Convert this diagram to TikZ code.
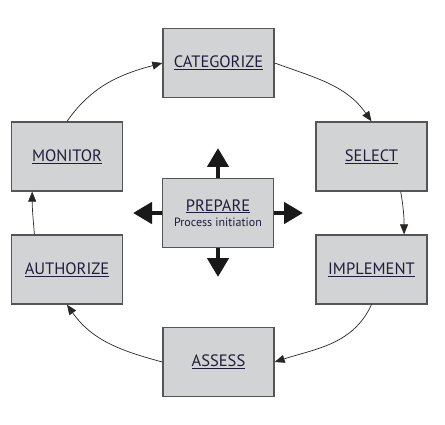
\documentclass[tikz,border=0pt]{standalone}
\usepackage{fontspec}
\setmainfont{PT Sans}
\usetikzlibrary{arrows.meta,calc}
\definecolor{boxfill}{HTML}{D2D3D5}
\definecolor{boxline}{HTML}{555555}
\definecolor{txt}{HTML}{1E1E3A}
\tikzset{
  stepbox/.style={draw=boxline, line width=1.3pt, fill=boxfill, minimum width=111pt, minimum height=69pt, inner sep=0pt, font=\fontsize{16.5}{18}\selectfont, text=txt},
  cycarrow/.style={draw=black!85, line width=0.7pt, -{Triangle[length=10pt,width=8pt]}},
  bigarrow/.style={draw=black!90, line width=4.5pt, -{Triangle[length=19pt,width=21pt]}}
}
\begin{document}
\begin{tikzpicture}[x=1pt,y=1pt]
\useasboundingbox (0,0) rectangle (445,424);
\node[stepbox] (cat) at (218.5,361) {\underline{CATEGORIZE}};
\node[stepbox] (mon) at (67,267.5) {\underline{MONITOR}};
\node[stepbox] (sel) at (371.5,267.5) {\underline{SELECT}};
\node[stepbox] (auth) at (67,154.5) {\underline{AUTHORIZE}};
\node[stepbox] (imp) at (371.5,154.5) {\underline{IMPLEMENT}};
\node[stepbox] (ass) at (218.5,62) {\underline{ASSESS}};
\node[stepbox, align=center] (prep) at (218,211) {\underline{PREPARE}\\[-3pt]{\fontsize{12}{14}\selectfont Process initiation}};
\coordinate (tN) at (218,276);
\coordinate (tS) at (218,147);
\coordinate (tW) at (133,211);
\coordinate (tE) at (303,211);
\draw[bigarrow] (prep.north) -- (tN);
\draw[bigarrow] (prep.south) -- (tS);
\draw[bigarrow] (prep.west) -- (tW);
\draw[bigarrow] (prep.east) -- (tE);
\draw[cycarrow] (cat.east) to[out=-20,in=125] (sel.north);
\draw[cycarrow] ($(sel.south west)!0.76!(sel.south east)$) to[out=-80,in=90] ($(imp.north west)!0.79!(imp.north east)$);
\draw[cycarrow] (imp.south) to[out=-115,in=18] (ass.east);
\draw[cycarrow] (ass.west) to[out=165,in=-55] (auth.south);
\draw[cycarrow] ($(auth.north west)!0.21!(auth.north east)$) to[out=95,in=-90] ($(mon.south west)!0.19!(mon.south east)$);
\draw[cycarrow] (mon.north) to[out=55,in=195] (cat.west);
\end{tikzpicture}
\end{document}
